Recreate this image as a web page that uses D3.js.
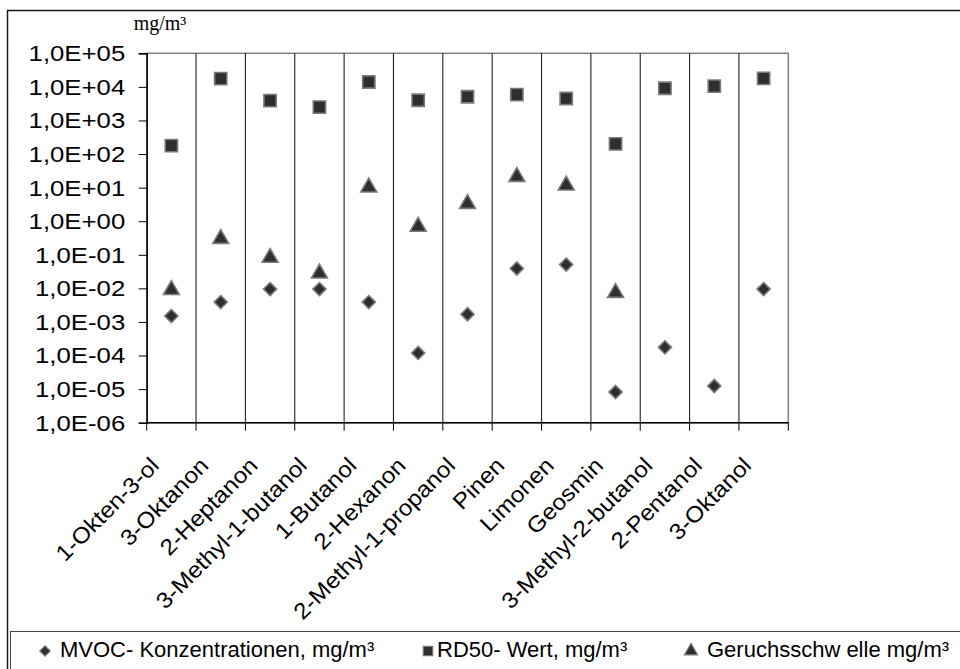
<!DOCTYPE html>
<html>
<head>
<meta charset="utf-8">
<script src="https://cdn.jsdelivr.net/npm/d3@7"></script>
<style>
  html, body { margin: 0; padding: 0; background: #fff; }
  svg { display: block; }
  text { font-family: "Liberation Sans", Arial, sans-serif; fill: #000; }
</style>
</head>
<body>
<svg id="chart" width="960" height="669"></svg>
<script>
const categories = ["1-Okten-3-ol", "3-Oktanon", "2-Heptanon", "3-Methyl-1-butanol", "1-Butanol",
  "2-Hexanon", "2-Methyl-1-propanol", "Pinen", "Limonen", "Geosmin", "3-Methyl-2-butanol",
  "2-Pentanol", "3-Oktanol"];
const mvoc = [1.5e-3, 3.9e-3, 9.5e-3, 9.5e-3, 3.9e-3, 1.2e-4, 1.7e-3, 0.039, 0.051, 8.2e-6, 1.75e-4, 1.24e-5, 9.5e-3];
const rd50 = [178, 17600, 3900, 2500, 14000, 4000, 5100, 5900, 4500, 200, 9100, 10500, 18000];
const odor = [0.009, 0.3, 0.082, 0.028, 10.2, 0.69, 3.3, 21, 11.7, 0.0074, null, null, null];
const yTicks = [1e-6, 1e-5, 1e-4, 1e-3, 1e-2, 1e-1, 1e0, 1e1, 1e2, 1e3, 1e4, 1e5];
const yTickLabels = ["1,0E-06", "1,0E-05", "1,0E-04", "1,0E-03", "1,0E-02", "1,0E-01",
  "1,0E+00", "1,0E+01", "1,0E+02", "1,0E+03", "1,0E+04", "1,0E+05"];
const seriesNames = ["MVOC- Konzentrationen, mg/m³", "RD50- Wert, mg/m³", "Geruchsschw elle mg/m³"];
const unitLabel = "mg/m³";

const svg = d3.select("#chart");
const L = 146.7, R = 788.3, T = 53.3, B = 422.7;

// outer frame
svg.append("rect").attr("x", 7.5).attr("y", 10.5).attr("width", 980).attr("height", 700)
  .attr("fill", "none").attr("stroke", "#1a1a1a").attr("stroke-width", 1.5);

const x = d3.scaleBand().domain(categories).range([L, R]);
const y = d3.scaleLog().domain([1e-6, 1e5]).range([B, T]);

// plot area border (grey)
svg.append("rect").attr("x", L).attr("y", T).attr("width", R - L).attr("height", B - T)
  .attr("fill", "#fff").attr("stroke", "#808080").attr("stroke-width", 1.5);

// vertical gridlines at category boundaries
const bounds = categories.map(c => x(c)).concat([x.range()[1]]);
svg.append("g").selectAll("line").data(bounds.slice(1, -1)).join("line")
  .attr("x1", d => d).attr("x2", d => d).attr("y1", T).attr("y2", B)
  .attr("stroke", "#222").attr("stroke-width", 1.1);

// x axis line + ticks
svg.append("line").attr("x1", L).attr("x2", R).attr("y1", B).attr("y2", B)
  .attr("stroke", "#000").attr("stroke-width", 1.5);
svg.append("g").selectAll("line").data(bounds).join("line")
  .attr("x1", d => d).attr("x2", d => d).attr("y1", B).attr("y2", B + 8)
  .attr("stroke", "#000").attr("stroke-width", 1);

// y axis
const yAxis = d3.axisLeft(y).tickValues(yTicks).tickSize(8).tickPadding(13)
  .tickFormat((d, i) => yTickLabels[i]);
const gy = svg.append("g").attr("transform", `translate(${L},0)`).call(yAxis);
gy.select(".domain").attr("stroke", "#000").attr("stroke-width", 1.5);
gy.selectAll(".tick line").attr("stroke", "#000");
gy.selectAll(".tick text")
  .attr("font-size", 23)
  .attr("font-family", "'Liberation Sans', Arial, sans-serif")
  .attr("x", 0)
  .attr("transform", "translate(-21.5,0) scale(1.12,1)");

// unit label
svg.append("text").attr("x", 160).attr("y", 30).attr("text-anchor", "middle")
  .style("font-family", "'Liberation Serif', 'Times New Roman', serif")
  .attr("font-size", 20).text(unitLabel);

// x labels
svg.append("g").selectAll("text").data(categories).join("text")
  .attr("transform", d => `translate(${x(d) + x.bandwidth() / 2 - 11},467) rotate(-45) scale(1.08,1)`)
  .attr("text-anchor", "end").attr("font-size", 22.5).text(d => d);

// markers
const sqSym = d3.symbol().type(d3.symbolSquare).size(150);
const diaSym = d3.symbol().type(d3.symbolDiamond2).size(110);
const triSym = d3.symbol().type(d3.symbolTriangle).size(110);
const cx = (i) => x(categories[i]) + x.bandwidth() / 2;

function drawSeries(vals, sym) {
  svg.append("g").selectAll("path")
    .data(vals.map((v, i) => ({ v, i })).filter(d => d.v != null))
    .join("path")
    .attr("d", sym)
    .attr("transform", d => `translate(${cx(d.i)},${y(d.v)})`)
    .attr("fill", "#2e2e2e").attr("stroke", "#7a7a7a").attr("stroke-width", 1.6);
}
drawSeries(rd50, sqSym);
drawSeries(odor, triSym);
drawSeries(mvoc, diaSym);

// legend box
svg.append("rect").attr("x", 10.5).attr("y", 631.5).attr("width", 980).attr("height", 80)
  .attr("fill", "none").attr("stroke", "#444").attr("stroke-width", 1);

const legendItems = [
  { sym: d3.symbol().type(d3.symbolDiamond2).size(70), mx: 45, tx: 60 },
  { sym: d3.symbol().type(d3.symbolSquare).size(90), mx: 428, tx: 437 },
  { sym: d3.symbol().type(d3.symbolTriangle).size(75), mx: 691, tx: 707 }
];
legendItems.forEach((it, i) => {
  svg.append("path").attr("d", it.sym).attr("transform", `translate(${it.mx},651)`)
    .attr("fill", "#2e2e2e").attr("stroke", "#7a7a7a").attr("stroke-width", 1.2);
  svg.append("text").attr("x", it.tx).attr("y", 657).attr("font-size", 22).text(seriesNames[i]);
});
</script>
</body>
</html>
